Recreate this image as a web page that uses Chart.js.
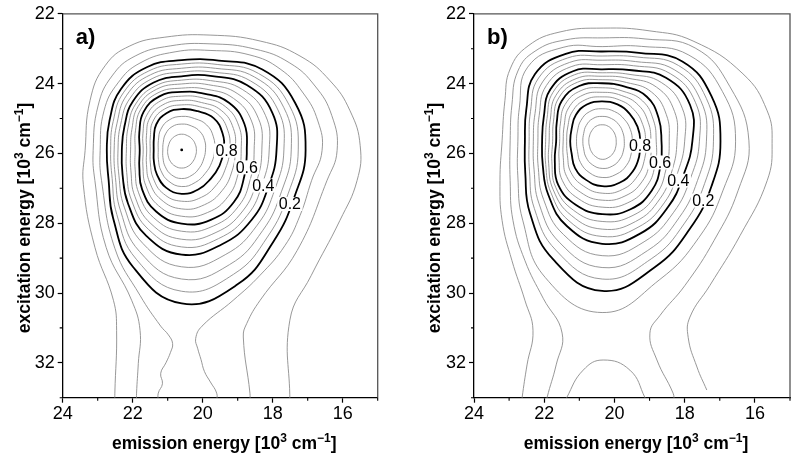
<!DOCTYPE html>
<html>
<head>
<meta charset="utf-8">
<script src="https://cdn.jsdelivr.net/npm/chart.js@4.4.1/dist/chart.umd.min.js"></script>
<style>
html, body { margin: 0; padding: 0; background: #fff; }
#wrap { position: relative; width: 800px; height: 456px; }
canvas { position: absolute; top: 0; }
</style>
</head>
<body>
<div id="wrap">
  <canvas id="chartA" width="400" height="456" style="left:0"></canvas>
  <canvas id="chartB" width="400" height="456" style="left:400px"></canvas>
</div>
<script>
// directions of the contour radii (deg, on screen: 0 = towards low emission energy, 90 = towards high excitation energy)
const angles = [0, 22.5, 45, 67.5, 90, 112.5, 135, 157.5, 180, 202.5, 225, 247.5, 270, 292.5, 315, 337.5];
const ringLevels = [0.95, 0.9, 0.85, 0.8, 0.75, 0.7, 0.65, 0.6, 0.55, 0.5, 0.45, 0.4, 0.35, 0.3, 0.25, 0.2];

// panel a) - peak position and closed contours (radius in 10^3 cm-1 along each direction)
const peakA = [20.6, 25.9];
const A95 = [0.42,0.43,0.46,0.50,0.52,0.50,0.46,0.42,0.40,0.40,0.42,0.44,0.45,0.44,0.43,0.42];
const A90 = [0.68,0.68,0.72,0.78,0.82,0.77,0.67,0.58,0.54,0.57,0.65,0.72,0.74,0.74,0.74,0.71];
const A85 = [0.94,0.93,0.95,1.01,1.05,0.97,0.84,0.72,0.67,0.72,0.84,0.93,0.96,0.97,1.01,0.98];
const A80 = [1.20,1.17,1.17,1.23,1.26,1.17,1.00,0.86,0.80,0.86,1.03,1.14,1.17,1.20,1.29,1.26];
const A75 = [1.37,1.36,1.41,1.47,1.47,1.36,1.15,0.97,0.90,0.97,1.16,1.27,1.29,1.34,1.45,1.43];
const A70 = [1.53,1.56,1.64,1.70,1.69,1.54,1.30,1.09,1.00,1.09,1.29,1.40,1.42,1.47,1.60,1.60];
const A65 = [1.70,1.75,1.88,1.94,1.90,1.73,1.45,1.20,1.10,1.20,1.41,1.53,1.54,1.61,1.76,1.77];
const A60 = [1.86,1.94,2.11,2.17,2.11,1.91,1.60,1.31,1.20,1.31,1.54,1.66,1.66,1.74,1.91,1.94];
const A55 = [2.07,2.13,2.29,2.36,2.33,2.10,1.74,1.44,1.33,1.43,1.65,1.77,1.77,1.88,2.09,2.16];
const A50 = [2.29,2.32,2.47,2.56,2.56,2.29,1.89,1.57,1.46,1.54,1.76,1.88,1.89,2.02,2.27,2.37];
const A45 = [2.50,2.50,2.65,2.75,2.78,2.47,2.03,1.70,1.58,1.66,1.86,1.98,2.00,2.15,2.45,2.59];
const A40 = [2.71,2.69,2.83,2.94,3.00,2.66,2.17,1.83,1.71,1.77,1.97,2.09,2.11,2.29,2.63,2.80];
const A35 = [2.92,2.89,3.05,3.25,3.35,2.90,2.32,1.94,1.82,1.89,2.09,2.21,2.23,2.41,2.79,2.98];
const A30 = [3.13,3.09,3.27,3.56,3.70,3.15,2.47,2.05,1.93,2.00,2.22,2.33,2.34,2.53,2.95,3.16];
const A25 = [3.33,3.29,3.49,3.86,4.05,3.39,2.62,2.15,2.03,2.12,2.34,2.45,2.46,2.65,3.10,3.33];
const A20 = [3.54,3.49,3.71,4.17,4.40,3.63,2.77,2.26,2.14,2.23,2.46,2.57,2.57,2.77,3.26,3.51];
// panel a) - open outer contours [emission, excitation]
const A15 = [[21.27,33.1],[21.27,32.87],[21.15,32.6],[21.2,32.3],[21.05,32.0],[20.92,31.7],[20.86,31.45],[20.98,31.2],[21.2,30.95],[21.79,30.07],[22.51,28.72],[22.89,26.78],[22.93,25.92],[22.82,24.78],[22.42,23.98],[21.79,23.41],[20.79,23.09],[19.79,23.05],[18.65,23.18],[17.79,23.58],[17.13,24.27],[16.71,25.07],[16.59,25.92],[16.89,26.78],[17.22,27.78],[17.65,28.64],[18.36,29.49],[19.13,30.21],[20.02,30.95],[20.2,31.3],[20.14,31.6],[20.05,31.9],[19.95,32.25],[19.78,32.55],[19.6,32.87],[19.6,33.1]];
const A10 = [[21.89,33.1],[21.89,32.87],[21.84,32.02],[21.79,31.07],[22.03,30.21],[22.76,28.69],[23.08,26.78],[23.13,25.92],[22.99,24.64],[22.59,23.78],[21.93,23.21],[20.93,22.92],[19.79,22.86],[18.51,23.01],[17.51,23.41],[16.79,24.07],[16.31,24.92],[16.16,25.92],[16.45,26.78],[17.30,28.78],[18.36,30.21],[18.74,30.87],[18.84,31.26],[18.65,32.87],[18.65,33.1]];
const A05 = [[22.51,33.1],[22.51,32.87],[22.46,31.07],[22.55,30.21],[23.08,28.69],[23.41,26.9],[23.36,25.92],[23.22,24.49],[22.79,23.49],[22.08,22.92],[21.08,22.67],[19.79,22.61],[18.36,22.78],[17.22,23.21],[16.36,23.92],[15.79,24.78],[15.5,25.78],[15.59,26.78],[16.08,27.92],[16.9,29.5],[17.51,30.78],[17.51,33.1]];

// panel b)
const peakB = [20.35, 25.65];
const B95 = [0.40,0.42,0.46,0.50,0.52,0.48,0.43,0.39,0.38,0.39,0.42,0.46,0.47,0.46,0.43,0.41];
const B90 = [0.63,0.66,0.72,0.77,0.78,0.73,0.65,0.57,0.55,0.57,0.64,0.70,0.71,0.70,0.67,0.64];
const B85 = [0.86,0.90,0.98,1.03,1.04,0.97,0.87,0.76,0.73,0.76,0.85,0.92,0.93,0.92,0.89,0.87];
const B80 = [1.09,1.14,1.23,1.29,1.29,1.20,1.09,0.94,0.91,0.94,1.06,1.14,1.14,1.14,1.11,1.09];
const B75 = [1.24,1.31,1.42,1.50,1.49,1.39,1.26,1.07,1.01,1.06,1.20,1.28,1.27,1.28,1.28,1.25];
const B70 = [1.39,1.47,1.62,1.70,1.69,1.59,1.43,1.20,1.11,1.17,1.35,1.43,1.40,1.42,1.46,1.42];
const B65 = [1.54,1.64,1.81,1.91,1.89,1.78,1.60,1.33,1.21,1.29,1.49,1.57,1.53,1.55,1.63,1.58];
const B60 = [1.69,1.80,2.00,2.11,2.09,1.97,1.77,1.46,1.31,1.40,1.63,1.71,1.66,1.69,1.80,1.74];
const B55 = [1.91,1.98,2.17,2.30,2.30,2.14,1.87,1.55,1.41,1.50,1.75,1.83,1.76,1.82,1.99,1.98];
const B50 = [2.13,2.16,2.33,2.49,2.52,2.30,1.97,1.65,1.51,1.60,1.86,1.94,1.86,1.95,2.19,2.23];
const B45 = [2.35,2.33,2.50,2.67,2.73,2.47,2.07,1.74,1.61,1.70,1.98,2.06,1.96,2.07,2.38,2.47];
const B40 = [2.57,2.51,2.66,2.86,2.94,2.63,2.17,1.83,1.71,1.80,2.09,2.17,2.06,2.20,2.57,2.71];
const B35 = [2.77,2.73,2.88,3.12,3.28,2.89,2.36,1.97,1.83,1.94,2.25,2.31,2.19,2.34,2.74,2.88];
const B30 = [2.97,2.94,3.10,3.39,3.62,3.15,2.54,2.10,1.96,2.07,2.40,2.44,2.32,2.47,2.90,3.04];
const B25 = [3.17,3.16,3.32,3.65,3.95,3.40,2.73,2.24,2.08,2.21,2.56,2.58,2.44,2.61,3.07,3.21];
const B20 = [3.37,3.37,3.54,3.91,4.29,3.66,2.91,2.37,2.20,2.34,2.71,2.71,2.57,2.74,3.23,3.37];
const B15 = [3.80,3.72,3.90,4.29,4.91,4.23,3.20,2.60,2.40,2.55,3.00,2.91,2.71,2.94,3.49,3.71];
const B10 = [[21.92,33.1],[21.92,33.0],[21.66,32.06],[21.49,31.15],[22.03,30.15],[22.55,29.07],[22.89,27.92],[22.97,26.78],[22.97,25.64],[22.92,24.61],[22.75,23.64],[22.26,23.07],[21.41,22.75],[20.32,22.69],[19.13,22.72],[17.70,22.98],[16.71,24.09],[16.17,25.64],[16.48,27.07],[17.16,28.49],[17.99,29.78],[18.70,30.64],[18.99,31.15],[18.79,31.92],[18.33,32.87],[18.30,33.1]];
const B05 = [[22.63,33.1],[22.63,33.0],[22.49,32.06],[22.32,31.07],[22.55,30.21],[22.92,29.07],[23.20,27.92],[23.26,26.78],[23.20,25.64],[23.12,24.49],[22.97,23.58],[22.46,22.92],[21.55,22.52],[20.32,22.41],[18.99,22.49],[17.76,22.78],[16.34,23.72],[15.65,24.78],[15.51,25.72],[15.65,26.78],[16.42,28.35],[17.28,29.78],[17.85,30.69],[17.90,31.27],[17.65,32.12],[17.37,32.78]];
const Bdome = [[21.36,33.1],[21.36,33.0],[20.89,32.21],[20.32,31.92],[19.56,32.21],[19.13,33.0],[19.12,33.1]];

// contour labels
const labelText = ['0.8', '0.6', '0.4', '0.2'];
const labelPosA = [[19.32, 25.92], [18.74, 26.4], [18.27, 26.92], [17.51, 27.45]];
const labelPosB = [[19.27, 25.78], [18.70, 26.26], [18.18, 26.78], [17.47, 27.35]];

const minorX = [15, 17, 19, 21, 23];
const minorY = [23, 25, 27, 29, 31, 33];

const titleX = [['emission energy [10', 0], ['3', 1], [' cm', 0], ['\u22121', 1], [']', 0]];
const titleY = [['excitation energy [10', 0], ['3', 1], [' cm', 0], ['\u22121', 1], [']', 0]];

const FAM = '"Liberation Sans", Arial, Helvetica, sans-serif';
Chart.defaults.font.family = FAM;

function ringPoints(peak, radii) {
  const pts = radii.map((r, i) => {
    const t = angles[i] * Math.PI / 180;
    return { x: peak[0] - r * Math.cos(t), y: peak[1] + r * Math.sin(t) };
  });
  // wrap round so the spline closes smoothly; first and last segment are hidden
  return [pts[pts.length - 1]].concat(pts, [pts[0], pts[1]]);
}

function lineSet(points, bold, closed) {
  const n = points.length;
  const ds = {
    data: points, showLine: true, pointRadius: 0, fill: false, tension: 0.45,
    borderColor: bold ? '#000' : '#8c8c8c',
    borderWidth: bold ? 1.8 : 0.9
  };
  if (closed) {
    ds.segment = { borderColor: c => (c.p0DataIndex === 0 || c.p1DataIndex === n - 1) ? 'rgba(0,0,0,0)' : undefined };
  }
  return ds;
}

function buildSets(peak, rings, open) {
  const sets = [];
  rings.forEach((r, i) => {
    const bold = Math.round(ringLevels[i] * 100) % 20 === 0;
    sets.push(lineSet(ringPoints(peak, r), bold, true));
  });
  open.forEach(o => sets.push(lineSet(o.map(p => ({ x: p[0], y: p[1] })), false, false)));
  return sets;
}

function drawRich(ctx, parts, cx, cy, angle) {
  const big = 'bold 17.5px ' + FAM, small = 'bold 12px ' + FAM;
  ctx.save();
  ctx.translate(cx, cy);
  ctx.rotate(angle);
  let w = 0;
  parts.forEach(p => { ctx.font = p[1] ? small : big; w += ctx.measureText(p[0]).width; });
  let x = -w / 2;
  ctx.fillStyle = '#000';
  ctx.textBaseline = 'alphabetic';
  ctx.textAlign = 'left';
  parts.forEach(p => {
    ctx.font = p[1] ? small : big;
    ctx.fillText(p[0], x, p[1] ? -7 : 0);
    x += ctx.measureText(p[0]).width;
  });
  ctx.restore();
}

const decor = {
  id: 'decor',
  afterDatasetsDraw(chart, args, opts) {
    const { ctx, scales } = chart;
    ctx.save();
    ctx.font = '16px ' + FAM;
    ctx.textAlign = 'center';
    ctx.textBaseline = 'middle';
    opts.labels.forEach((p, i) => {
      const x = scales.x.getPixelForValue(p[0]), y = scales.y.getPixelForValue(p[1]);
      const w = ctx.measureText(labelText[i]).width + 3;
      ctx.fillStyle = '#fff';
      ctx.fillRect(x - w / 2, y - 7, w, 14);
      ctx.fillStyle = '#000';
      ctx.fillText(labelText[i], x, y + 1);
    });
    ctx.restore();
  },
  afterDraw(chart, args, opts) {
    const { ctx, chartArea: a, scales } = chart;
    ctx.save();
    ctx.strokeStyle = '#555';
    ctx.lineWidth = 1.3;
    ctx.beginPath();
    ctx.moveTo(a.left, a.top); ctx.lineTo(a.right, a.top); ctx.lineTo(a.right, a.bottom);
    ctx.stroke();
    ctx.strokeStyle = '#000';
    ctx.lineWidth = 1.1;
    ctx.beginPath();
    minorX.forEach(v => { const p = scales.x.getPixelForValue(v); ctx.moveTo(p, a.bottom); ctx.lineTo(p, a.bottom + 3); });
    minorY.forEach(v => { const p = scales.y.getPixelForValue(v); ctx.moveTo(a.left, p); ctx.lineTo(a.left - 3, p); });
    ctx.stroke();
    ctx.font = 'bold 22px ' + FAM;
    ctx.fillStyle = '#000';
    ctx.textAlign = 'left';
    ctx.textBaseline = 'alphabetic';
    ctx.fillText(opts.letter, a.left + 13, 44);
    drawRich(ctx, titleX, (a.left + a.right) / 2 + 4, 449, 0);
    drawRich(ctx, titleY, opts.yTitleX, 218, -Math.PI / 2);
    ctx.restore();
  }
};

function makeChart(id, sets, yWidth, padRight, letter, labels, yTitleX) {
  const tickColor = c => (c.tick && c.tick.value % 2 === 0) ? '#000' : 'rgba(0,0,0,0)';
  return new Chart(document.getElementById(id), {
    type: 'scatter',
    data: { datasets: sets },
    plugins: [decor],
    options: {
      responsive: false,
      animation: false,
      events: [],
      layout: { padding: { top: 12.7, right: padRight, left: 0, bottom: 0 } },
      plugins: {
        legend: { display: false },
        tooltip: { enabled: false },
        decor: { letter: letter, labels: labels, yTitleX: yTitleX }
      },
      scales: {
        x: {
          type: 'linear', min: 15, max: 24, reverse: true,
          ticks: { stepSize: 1, autoSkip: false, maxRotation: 0, padding: 1, color: '#000', font: { size: 18 },
            callback: v => v % 2 === 0 ? v : '' },
          grid: { drawOnChartArea: false, tickLength: 5, tickWidth: 1.2, tickColor: tickColor },
          border: { color: '#000', width: 1.3 },
          afterFit: s => { s.height = 58.3; }
        },
        y: {
          type: 'linear', min: 22, max: 33, reverse: true,
          ticks: { stepSize: 1, autoSkip: false, padding: 3, color: '#000', font: { size: 18 },
            callback: v => v % 2 === 0 ? v : '' },
          grid: { drawOnChartArea: false, tickLength: 5, tickWidth: 1.2, tickColor: tickColor },
          border: { color: '#000', width: 1.3 },
          afterFit: s => { s.width = yWidth; }
        }
      }
    }
  });
}

const setsA = buildSets(peakA, [A95, A90, A85, A80, A75, A70, A65, A60, A55, A50, A45, A40, A35, A30, A25, A20], [A15, A10, A05]);
setsA.push({ data: [{ x: peakA[0], y: peakA[1] }], pointRadius: 1.4, pointBackgroundColor: '#000', pointBorderWidth: 0 });
const setsB = buildSets(peakB, [B95, B90, B85, B80, B75, B70, B65, B60, B55, B50, B45, B40, B35, B30, B25, B20, B15], [B10, B05, Bdome]);

makeChart('chartA', setsA, 62.7, 22.3, 'a)', labelPosA, 29.5);
makeChart('chartB', setsB, 74, 10, 'b)', labelPosB, 39.6);
</script>
</body>
</html>
